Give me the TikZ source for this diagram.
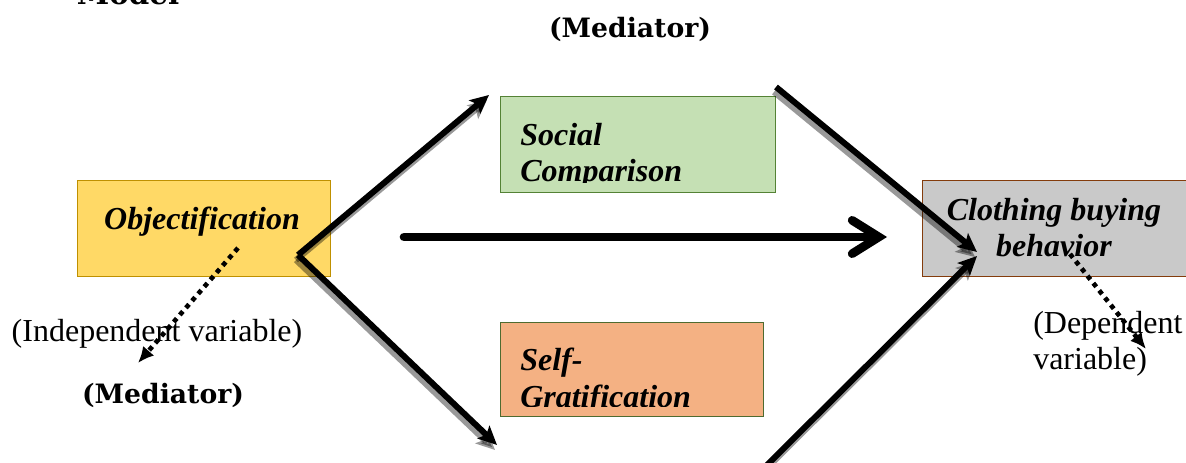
\documentclass[tikz,border=0pt]{standalone}
\usepackage{fontspec}
\setmainfont{Liberation Serif}
\newfontfamily\medfont{DejaVu Serif}
\usetikzlibrary{arrows.meta}

\definecolor{objfill}{HTML}{FFD966}
\definecolor{objline}{HTML}{BF9000}
\definecolor{socfill}{HTML}{C5E0B4}
\definecolor{socline}{HTML}{548235}
\definecolor{selffill}{HTML}{F4B183}
\definecolor{selfline}{HTML}{4E6B30}
\definecolor{cbbfill}{HTML}{C9C9C9}
\definecolor{cbbline}{HTML}{843C0C}

\tikzset{
    varbox/.style={draw, line width=1pt, inner sep=0pt, anchor=north west},
    boxtext/.style={font=\fontsize{24}{27.6}\selectfont\bfseries\itshape, align=left, inner sep=0pt},
    plaintext/.style={font=\fontsize{24}{27.6}\selectfont, inner sep=0pt, anchor=base west},
    medlabel/.style={font=\fontsize{20}{24}\selectfont\medfont\bfseries, inner sep=0pt, anchor=base},
    link/.style={line width=4.5pt, -{Stealth[length=14pt, width=13pt, inset=3pt]}},
    linkshade/.style={link, draw=black, opacity=0.4, transform canvas={xshift=-1.5pt, yshift=-3.75pt}},
    direct/.style={line width=6.5pt, line cap=round, -{Straight Barb[length=20pt, width=25pt, line cap=round]}},
    dotlink/.style={line width=3.5pt, dash pattern=on 3.5pt off 3.5pt, -{Latex[length=12pt, width=11pt]}}
}

\begin{document}
\begin{tikzpicture}[x=0.75pt, y=-0.75pt]
    \useasboundingbox (0,0) rectangle (1186,463);

    % Headings
    \node[medlabel, font=\fontsize{22}{26}\selectfont\medfont\bfseries] (model) at (128,5) {Model};
    \node[medlabel] (medtop) at (630,38) {(Mediator)};
    \node[medlabel] (medbot) at (163,404) {(Mediator)};

    % Variable boxes
    \node[varbox, fill=objfill, draw=objline, minimum width=189.75pt, minimum height=72pt] (obj) at (77,180) {};
    \node[varbox, fill=socfill, draw=socline, minimum width=206.25pt, minimum height=72pt] (soc) at (500,96) {};
    \node[varbox, fill=selffill, draw=selfline, minimum width=197.25pt, minimum height=70.5pt] (self) at (500,322) {};
    \node[varbox, fill=cbbfill, draw=cbbline, minimum width=200pt, minimum height=72pt] (cbb) at (922,180) {};

    % Box texts (base is the last line)
    \node[boxtext, anchor=base] (objtxt) at (202,230) {Objectification};
    \node[boxtext, align=center, anchor=base] (cbbtxt) at (1054,257) {Clothing buying\\behavior};
    \begin{scope}
        \clip (500,96) rectangle (775,183);
        \node[boxtext, anchor=base west] (soctxt) at (520,182) {Social\\Comparison};
    \end{scope}
    \begin{scope}
        \clip (500,322) rectangle (763,407);
        \node[boxtext, anchor=base west] (selftxt) at (520,407) {Self-\\Gratification};
    \end{scope}

    % Side labels
    \node[plaintext, anchor=base] (indep) at (157,342) {(Independent variable)};
    \node[plaintext] (dep1) at (1033,334) {(Dependent};
    \node[plaintext] (dep2) at (1033,370) {variable)};

    % Arrow end points
    \coordinate (o) at (298,255);
    \coordinate (socin) at (489,95);
    \coordinate (selfin) at (497,445);
    \coordinate (socout) at (776,87);
    \coordinate (selfout) at (762,470);
    \coordinate (cbbin) at (977,252);
    \coordinate (cbbin2) at (977,256);
    \coordinate (dstart) at (404,237);
    \coordinate (dend) at (887,237);
    \coordinate (objdot) at (238,248);
    \coordinate (objdotend) at (138,363);
    \coordinate (cbbdot) at (1070,254);
    \coordinate (cbbdotend) at (1146,349);

    % Shadows of the paths
    \draw[linkshade] (o) -- (socin);
    \draw[linkshade] (o) -- (selfin);
    \draw[linkshade] (socout) -- (cbbin);
    \draw[linkshade] (selfout) -- (cbbin2);

    % Paths through the mediators
    \draw[link] (o) -- (socin);
    \draw[link] (o) -- (selfin);
    \draw[link] (socout) -- (cbbin);
    \draw[link] (selfout) -- (cbbin2);

    % Direct path
    \draw[direct] (dstart) -- (dend);

    % Label pointers
    \draw[dotlink] (objdot) -- (objdotend);
    \draw[dotlink] (cbbdot) -- (cbbdotend);
\end{tikzpicture}
\end{document}
